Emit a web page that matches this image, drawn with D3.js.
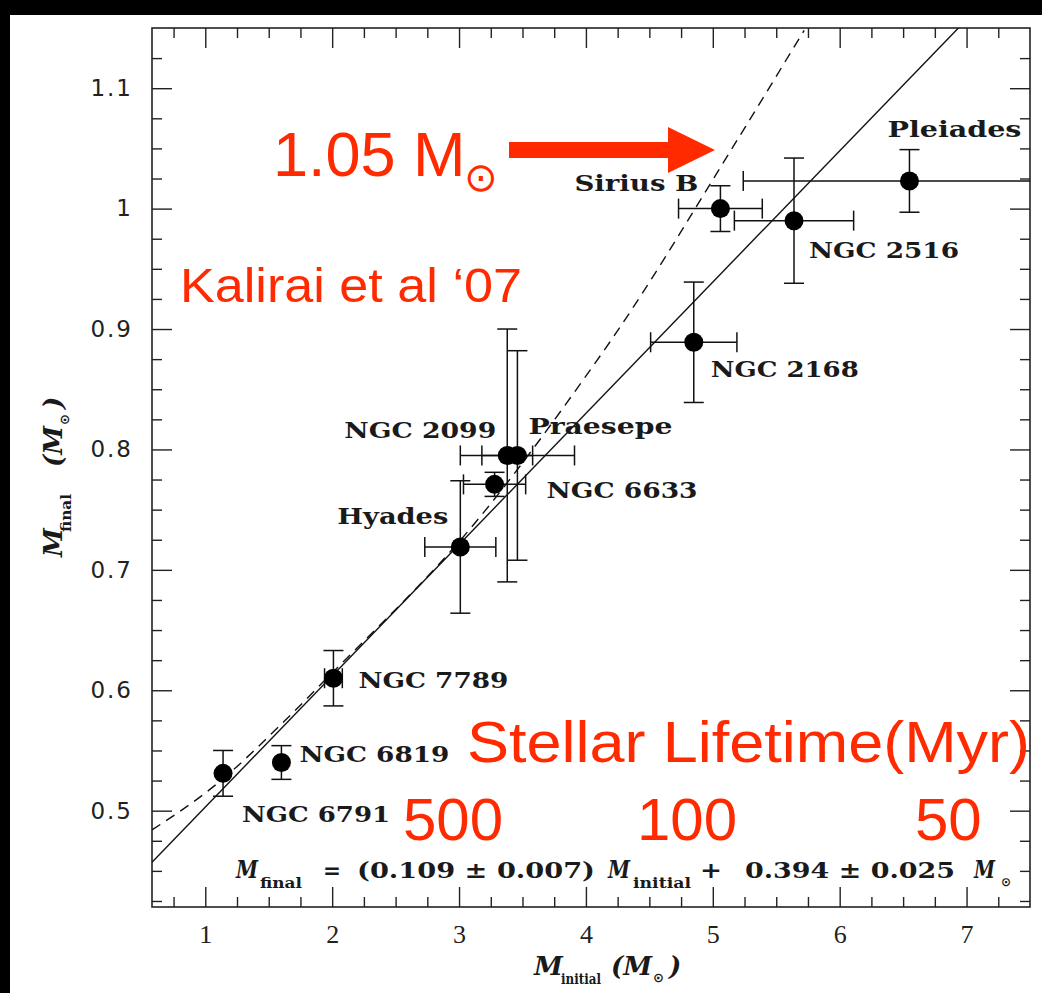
<!DOCTYPE html>
<html><head><meta charset="utf-8">
<script src="https://cdn.jsdelivr.net/npm/d3@7"></script>
<style>html,body{margin:0;padding:0;background:#000;}svg{display:block;}</style>
</head><body>
<script>
// ---- data ----
const clusters   = ["NGC 6791","NGC 6819","NGC 7789","Hyades","NGC 6633","NGC 2099","Praesepe","NGC 2168","Sirius B","NGC 2516","Pleiades"];
const mInitial   = [1.14, 1.60, 2.01, 3.01, 3.28, 3.38, 3.46, 4.85, 5.06, 5.64, 6.55];
const mInitErr   = [0, 0, 0.07, 0.28, 0.245, 0.20, 0.45, 0.34, 0.33, 0.47, 1.31];
const mFinal     = [0.531, 0.540, 0.610, 0.719, 0.771, 0.795, 0.795, 0.889, 1.000, 0.990, 1.023];
const mFinalErr  = [0.019, 0.014, 0.023, 0.055, 0.010, 0.105, 0.087, 0.050, 0.019, 0.052, 0.026];
const fitSlope = 0.109, fitIntercept = 0.394;
const dashedX = [0.58, 1.10, 1.62, 1.93, 3.15, 3.98, 4.22, 5.14, 5.72];
const dashedY = [0.484, 0.523, 0.574, 0.607, 0.742, 0.858, 0.894, 1.048, 1.148];
const xTicks = [1,2,3,4,5,6,7];
const yTicks = [0.5,0.6,0.7,0.8,0.9,1.0,1.1];
const lifetimeLabels = ["500","100","50"];

// ---- layout ----
const W = 1042, H = 993;
const L = 152, R = 1030, T = 28, B = 907;
const red = "#ff2a00";
const labelLayout = [ // dx, dy (px from point), width
  [19,49,148],[18,-1,150],[25,10,150],[-123,-23,111],[52,14,151],
  [-163,-17,152],[11,-21,144],[17,35,148],[-146,-18,124],[15,37,150],[-22,-44,134]];

const svg = d3.select("body").append("svg").attr("width",W).attr("height",H);
svg.append("rect").attr("width",W).attr("height",H).attr("fill","#000");
svg.append("rect").attr("x",10).attr("y",15).attr("width",W-10).attr("height",H-15).attr("fill","#fff");

const x = d3.scaleLinear().domain([0.58,7.5]).range([L,R]);
const y = d3.scaleLinear().domain([0.42,1.15]).range([B,T]);

svg.append("defs").append("clipPath").attr("id","clip")
  .append("rect").attr("x",L).attr("y",T).attr("width",R-L).attr("height",B-T);

// axes
const xMinor = d3.range(0.75,7.5,0.25).filter(v=>Math.abs(v-Math.round(v))>1e-6);
const yMinor = d3.range(0.425,1.15,0.025).filter(v=>Math.abs(v*10-Math.round(v*10))>1e-6);
const tickFont = "'Liberation Serif', serif";
function styleAxis(g){ g.select(".domain").remove(); g.selectAll("line").attr("stroke","#222").attr("stroke-width",1.4); }

svg.append("g").attr("transform",`translate(0,${B})`)
  .call(d3.axisBottom(x).tickValues(xTicks).tickSize(-20).tickPadding(18).tickFormat(d3.format("d")))
  .call(styleAxis)
  .call(g=>g.selectAll("text").attr("font-family",tickFont).attr("font-size",26).attr("fill","#222"));
svg.append("g").attr("transform",`translate(0,${B})`)
  .call(d3.axisBottom(x).tickValues(xMinor).tickSize(-10).tickFormat("")).call(styleAxis);
svg.append("g").attr("transform",`translate(0,${T})`)
  .call(d3.axisTop(x).tickValues(xTicks).tickSize(-20).tickFormat("")).call(styleAxis);
svg.append("g").attr("transform",`translate(0,${T})`)
  .call(d3.axisTop(x).tickValues(xMinor).tickSize(-10).tickFormat("")).call(styleAxis);

svg.append("g").attr("transform",`translate(${L},0)`)
  .call(d3.axisLeft(y).tickValues(yTicks).tickSize(-20).tickPadding(19).tickFormat(d=>d===1?"1":d3.format(".1f")(d)))
  .call(styleAxis)
  .call(g=>g.selectAll("text").attr("font-family","'DejaVu Sans', sans-serif").attr("font-size",23)
        .attr("letter-spacing",2).attr("fill","#222"));
svg.append("g").attr("transform",`translate(${L},0)`)
  .call(d3.axisLeft(y).tickValues(yMinor).tickSize(-10).tickFormat("")).call(styleAxis);
svg.append("g").attr("transform",`translate(${R},0)`)
  .call(d3.axisRight(y).tickValues(yTicks).tickSize(-20).tickFormat("")).call(styleAxis);
svg.append("g").attr("transform",`translate(${R},0)`)
  .call(d3.axisRight(y).tickValues(yMinor).tickSize(-10).tickFormat("")).call(styleAxis);

svg.append("rect").attr("x",L).attr("y",T).attr("width",R-L).attr("height",B-T)
  .attr("fill","none").attr("stroke","#222").attr("stroke-width",1.6);

const plot = svg.append("g").attr("clip-path","url(#clip)");

// fit line
plot.append("line")
  .attr("x1",x(0.58)).attr("y1",y(fitSlope*0.58+fitIntercept))
  .attr("x2",x(7.5)).attr("y2",y(fitSlope*7.5+fitIntercept))
  .attr("stroke","#111").attr("stroke-width",1.4);
// dashed relation
plot.append("path").datum(d3.zip(dashedX,dashedY))
  .attr("d",d3.line().x(d=>x(d[0])).y(d=>y(d[1])).curve(d3.curveMonotoneX))
  .attr("fill","none").attr("stroke","#111").attr("stroke-width",1.4).attr("stroke-dasharray","10,7");

// error bars + points
const cap = 10;
clusters.forEach((c,i)=>{
  const cx = x(mInitial[i]), cy = y(mFinal[i]);
  const g = plot.append("g").attr("stroke","#111").attr("stroke-width",1.5);
  if (mFinalErr[i]>0){
    const y1 = y(mFinal[i]+mFinalErr[i]), y2 = y(mFinal[i]-mFinalErr[i]);
    g.append("line").attr("x1",cx).attr("x2",cx).attr("y1",y1).attr("y2",y2);
    g.append("line").attr("x1",cx-cap).attr("x2",cx+cap).attr("y1",y1).attr("y2",y1);
    g.append("line").attr("x1",cx-cap).attr("x2",cx+cap).attr("y1",y2).attr("y2",y2);
  }
  if (mInitErr[i]>0){
    const x1 = x(mInitial[i]-mInitErr[i]), x2 = x(mInitial[i]+mInitErr[i]);
    g.append("line").attr("x1",x1).attr("x2",x2).attr("y1",cy).attr("y2",cy);
    g.append("line").attr("x1",x1).attr("x2",x1).attr("y1",cy-cap).attr("y2",cy+cap);
    g.append("line").attr("x1",x2).attr("x2",x2).attr("y1",cy-cap).attr("y2",cy+cap);
  }
});
plot.selectAll("circle.pt").data(clusters).join("circle")
  .attr("cx",(d,i)=>x(mInitial[i])).attr("cy",(d,i)=>y(mFinal[i])).attr("r",9.5).attr("fill","#000");

// cluster labels
const labFont = "'DejaVu Serif', serif";
clusters.forEach((c,i)=>{
  const [dx,dy,w] = labelLayout[i];
  svg.append("text").attr("x",x(mInitial[i])+dx).attr("y",y(mFinal[i])+dy)
    .attr("font-family",labFont).attr("font-weight","bold").attr("font-size",22)
    .attr("fill","#1a1a1a").attr("textLength",w).attr("lengthAdjust","spacingAndGlyphs").text(c);
});

// equation
const eq = svg.append("g").attr("font-family",labFont).attr("font-weight","bold").attr("fill","#1a1a1a");
function piece(txt,px,py,fs,w,italic){
  const t = eq.append("text").attr("x",px).attr("y",py).attr("font-size",fs).text(txt);
  if(italic) t.attr("font-style","italic");
  if(w) t.attr("textLength",w).attr("lengthAdjust","spacingAndGlyphs");
  return t;
}
piece("M",236,878,25,22,true);
piece("final",260,888,15,42);
piece("=",323,878,23,18);
piece("(0.109 ± 0.007)",357,878,23,238);
piece("M",608,878,25,22,true);
piece("initial",633,888,15,58);
piece("+",700,878,23,22);
piece("0.394 ± 0.025",745,878,23,210);
piece("M",974,878,25,21,true);
eq.append("text").attr("x",1001).attr("y",886).attr("font-size",12).attr("font-family","'DejaVu Sans', sans-serif").text("⊙");

// axis titles
const xt = svg.append("text").attr("font-family",labFont).attr("font-weight","bold").attr("fill","#1a1a1a");
xt.append("tspan").attr("x",534).attr("y",975).attr("font-size",26).attr("font-style","italic").text("M");
xt.append("tspan").attr("x",561).attr("y",984).attr("font-size",15).attr("textLength",40).attr("lengthAdjust","spacingAndGlyphs").text("initial");
xt.append("tspan").attr("x",611).attr("y",975).attr("font-size",26).attr("font-style","italic").text("(M");
xt.append("tspan").attr("x",653).attr("y",982).attr("font-size",13).attr("font-family","'DejaVu Sans', sans-serif").text("⊙");
xt.append("tspan").attr("x",669).attr("y",975).attr("font-size",26).attr("font-style","italic").text(")");

const yt = svg.append("g").attr("transform","translate(62,557) rotate(-90)")
  .append("text").attr("font-family",labFont).attr("font-weight","bold").attr("fill","#1a1a1a");
yt.append("tspan").attr("x",0).attr("y",0).attr("font-size",26).attr("font-style","italic").text("M");
yt.append("tspan").attr("x",25).attr("y",9).attr("font-size",15).attr("textLength",38).attr("lengthAdjust","spacingAndGlyphs").text("final");
yt.append("tspan").attr("x",90).attr("y",0).attr("font-size",26).attr("font-style","italic").text("(M");
yt.append("tspan").attr("x",132).attr("y",7).attr("font-size",13).attr("font-family","'DejaVu Sans', sans-serif").text("⊙");
yt.append("tspan").attr("x",148).attr("y",0).attr("font-size",26).attr("font-style","italic").text(")");

// red annotations
const redFont = "'Liberation Sans', Arial, sans-serif";
const t105 = svg.append("text").attr("font-family",redFont).attr("fill",red);
t105.append("tspan").attr("x",273).attr("y",176).attr("font-size",63).text("1.05 M");
t105.append("tspan").attr("x",464).attr("y",191).attr("font-size",40).attr("font-family","'DejaVu Sans', sans-serif").text("⊙");
svg.append("path").attr("fill",red)
  .attr("d","M509,142 L668,142 L668,127 L715,150 L668,173 L668,158 L509,158 Z");
svg.append("text").attr("x",180).attr("y",302).attr("font-family",redFont).attr("font-size",48)
  .attr("fill",red).attr("textLength",342).attr("lengthAdjust","spacingAndGlyphs").text("Kalirai et al \u201807");
svg.append("text").attr("x",467).attr("y",762).attr("font-family",redFont).attr("font-size",57)
  .attr("fill",red).attr("textLength",563).attr("lengthAdjust","spacingAndGlyphs").text("Stellar Lifetime(Myr)");
const lifeX = [403,637,915];
lifetimeLabels.forEach((s,i)=>{
  svg.append("text").attr("x",lifeX[i]).attr("y",840).attr("font-family",redFont).attr("font-size",60)
    .attr("fill",red).text(s);
});
</script>
</body></html>
